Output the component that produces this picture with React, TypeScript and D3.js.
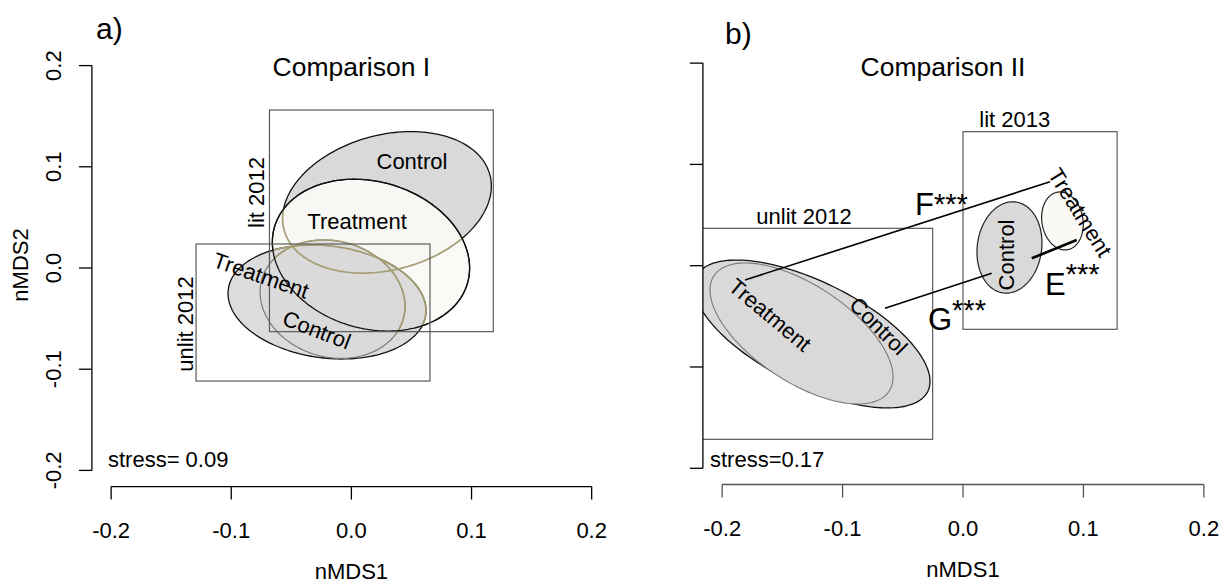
import React from "react";
import * as d3 from "d3";

// ---- shared axis ticks ----
const AXIS_TICKS = [-0.2, -0.1, 0.0, 0.1, 0.2];
const AXIS_TICK_LABELS = ["-0.2", "-0.1", "0.0", "0.1", "0.2"];

// ---- Comparison I (lit 2012 vs unlit 2012) ----
const c1Groups = ["lit 2012 Control", "lit 2012 Treatment", "unlit 2012 Treatment", "unlit 2012 Control"];
// ellipse centres: [nMDS1, nMDS2]
const c1Centers = [
  [0.0296, 0.0649],
  [0.0163, 0.0127],
  [-0.0203, -0.0336],
  [-0.0157, -0.0308],
];
// ellipse spread: [sd nMDS1, sd nMDS2, correlation]
const c1Spread = [
  [0.0869, 0.0699, 0.23],
  [0.0821, 0.075, -0.17],
  [0.0824, 0.0563, -0.15],
  [0.0603, 0.0585, -0.12],
];
// site boxes: [xmin, xmax, ymin, ymax]
const c1BoxNames = ["lit 2012", "unlit 2012"];
const c1Boxes = [
  [-0.0682, 0.1181, -0.0629, 0.1561],
  [-0.1293, 0.0654, -0.1117, 0.0237],
];
const c1Stress = "stress= 0.09";

// ---- Comparison II (unlit 2012 vs lit 2013) ----
const c2Groups = ["unlit 2012 Control", "unlit 2012 Treatment", "lit 2013 Control", "lit 2013 Treatment"];
const c2Centers = [
  [-0.1254, -0.0674],
  [-0.1341, -0.0669],
  [0.0386, 0.018],
  [0.0826, 0.0442],
];
const c2Spread = [
  [0.098, 0.073, -0.64],
  [0.076, 0.0696, -0.6165],
  [0.027, 0.0451, 0.1],
  [0.0173, 0.0286, -0.12],
];
const c2BoxNames = ["unlit 2012", "lit 2013"];
const c2Boxes = [
  [-0.2165, -0.0252, -0.1714, 0.0369],
  [0.0, 0.128, -0.0628, 0.1323],
];
// pairwise contrasts: [from x, from y, to x, to y]
const c2ContrastNames = ["F", "G", "E"];
const c2ContrastStars = ["***", "***", "***"];
const c2Contrasts = [
  [-0.181, -0.0141, 0.0723, 0.0829],
  [-0.0648, -0.042, 0.0238, -0.0075],
  [0.0571, 0.0073, 0.0944, 0.0254],
];
const c2Stress = "stress=0.17";

const FONT = "'Liberation Sans', Arial, Helvetica, sans-serif";
const GREY = "#d9d9d9";
const PALE = "#faf9f5";
const OLIVE = "#a59d74";

function ellipsePath(
  c: number[],
  s: number[],
  xs: d3.ScaleLinear<number, number>,
  ys: d3.ScaleLinear<number, number>
) {
  const [sx, sy, r] = s;
  const q = Math.sqrt(1 - r * r);
  const pts: [number, number][] = d3.range(0, 360, 2).map((deg) => {
    const t = (deg * Math.PI) / 180;
    return [xs(c[0] + sx * Math.cos(t)), ys(c[1] + sy * (r * Math.cos(t) + q * Math.sin(t)))];
  });
  return d3.line().curve(d3.curveLinearClosed)(pts) as string;
}

type EllStyle = { fill: string; fillOpacity: number; stroke: string; width: number };
type Label = { text: string; x: number; y: number; rot: number; size?: number };
type Tint = { inside: number; targets: number[]; color: string };

type PanelProps = {
  id: string;
  left: number;
  right: number;
  top: number;
  bottom: number;
  showYLabels: boolean;
  xAxisColor: string;
  centers: number[][];
  spread: number[][];
  styles: EllStyle[];
  tint?: Tint;
  boxes: number[][];
  labels: Label[];
  stress: string;
  stressPos: [number, number];
  letter: string;
  letterPos: [number, number];
  title: string;
  titleX: number;
  children?: (xs: d3.ScaleLinear<number, number>, ys: d3.ScaleLinear<number, number>) => React.ReactNode;
};

function Panel(p: PanelProps) {
  const xs = d3.scaleLinear().domain([-0.216, 0.216]).range([p.left, p.right]);
  const ys = d3.scaleLinear().domain([-0.216, 0.216]).range([p.bottom, p.top]);
  const tickLen = 13;
  const paths = p.centers.map((c, i) => ellipsePath(c, p.spread[i], xs, ys));
  return (
    <g fontFamily={FONT} fill="#000">
      <defs>
        <clipPath id={p.id}>
          <rect x={p.left} y={p.top} width={p.right - p.left} height={p.bottom - p.top} />
        </clipPath>
        {p.tint && (
          <clipPath id={p.id + "tint"}>
            <path d={paths[p.tint.inside]} />
          </clipPath>
        )}
      </defs>
      <g clipPath={`url(#${p.id})`}>
        {paths.map((d, i) => (
          <path
            key={i}
            d={d}
            fill={p.styles[i].fill}
            fillOpacity={p.styles[i].fillOpacity}
            stroke={p.styles[i].stroke}
            strokeWidth={p.styles[i].width}
          />
        ))}
        {p.tint && (
          <g clipPath={`url(#${p.id}tint)`}>
            {p.tint.targets.map((i) => (
              <path key={"t" + i} d={paths[i]} fill="none" stroke={p.tint!.color} strokeWidth={p.styles[i].width + 0.4} />
            ))}
          </g>
        )}
        {p.tint && (
          <path
            d={paths[p.tint.inside]}
            fill="none"
            stroke={p.styles[p.tint.inside].stroke}
            strokeWidth={p.styles[p.tint.inside].width}
          />
        )}
        {p.boxes.map((b, i) => (
          <rect
            key={"b" + i}
            x={xs(b[0])}
            y={ys(b[3])}
            width={xs(b[1]) - xs(b[0])}
            height={ys(b[2]) - ys(b[3])}
            fill="none"
            stroke="#5a5a5a"
            strokeWidth={1.2}
          />
        ))}
      </g>
      {p.children && p.children(xs, ys)}
      {p.labels.map((l, i) => (
        <text
          key={"l" + i}
          transform={`translate(${xs(l.x)},${ys(l.y)}) rotate(${l.rot})`}
          textAnchor="middle"
          dominantBaseline="central"
          fontSize={l.size || 22}
        >
          {l.text}
        </text>
      ))}
      {/* y axis */}
      <line x1={p.left} x2={p.left} y1={ys(0.2)} y2={ys(-0.2)} stroke="#000" strokeWidth={1.3} />
      {AXIS_TICKS.map((t, i) => (
        <g key={"yt" + i}>
          <line x1={p.left - tickLen} x2={p.left} y1={ys(t)} y2={ys(t)} stroke="#000" strokeWidth={1.3} />
          {p.showYLabels && (
            <text
              transform={`translate(${p.left - 31},${ys(t)}) rotate(-90)`}
              textAnchor="middle"
              fontSize={22}
            >
              {AXIS_TICK_LABELS[i]}
            </text>
          )}
        </g>
      ))}
      {/* x axis */}
      <line x1={xs(-0.2)} x2={xs(0.2)} y1={p.bottom} y2={p.bottom} stroke={p.xAxisColor} strokeWidth={1.3} />
      {AXIS_TICKS.map((t, i) => (
        <g key={"xt" + i}>
          <line x1={xs(t)} x2={xs(t)} y1={p.bottom} y2={p.bottom + tickLen} stroke={p.xAxisColor} strokeWidth={1.3} />
          <text x={xs(t)} y={p.bottom + 51} textAnchor="middle" fontSize={22}>
            {AXIS_TICK_LABELS[i]}
          </text>
        </g>
      ))}
      <text x={xs(0)} y={p.bottom + 92} textAnchor="middle" fontSize={22}>
        nMDS1
      </text>
      {p.showYLabels && (
        <text transform={`translate(${27.5},${265}) rotate(-90)`} textAnchor="middle" fontSize={22}>
          nMDS2
        </text>
      )}
      <text x={xs(p.stressPos[0])} y={ys(p.stressPos[1])} fontSize={22}>
        {p.stress}
      </text>
      <text x={p.letterPos[0]} y={p.letterPos[1]} fontSize={30}>
        {p.letter}
      </text>
      <text x={p.titleX} y={76} textAnchor="middle" fontSize={26.5}>
        {p.title}
      </text>
    </g>
  );
}

export default function App() {
  const stylesI: EllStyle[] = [
    { fill: GREY, fillOpacity: 1, stroke: "#111", width: 1.3 },
    { fill: PALE, fillOpacity: 0.9, stroke: "#111", width: 1.3 },
    { fill: GREY, fillOpacity: 0.92, stroke: "#111", width: 1.3 },
    { fill: GREY, fillOpacity: 0.85, stroke: "#7a7a72", width: 1.2 },
  ];
  const stylesII: EllStyle[] = [
    { fill: GREY, fillOpacity: 1, stroke: "#111", width: 1.3 },
    { fill: GREY, fillOpacity: 1, stroke: "#7a7a7a", width: 1.1 },
    { fill: GREY, fillOpacity: 1, stroke: "#222", width: 1.2 },
    { fill: PALE, fillOpacity: 1, stroke: "#222", width: 1.2 },
  ];
  const labelsI: Label[] = [
    { text: "Control", x: 0.0504, y: 0.105, rot: 0 },
    { text: "Treatment", x: 0.0047, y: 0.0458, rot: 0 },
    { text: "Treatment", x: -0.0752, y: -0.0075, rot: 19 },
    { text: "Control", x: -0.0289, y: -0.0613, rot: 21 },
    { text: c1BoxNames[0], x: -0.0794, y: 0.0746, rot: -90 },
    { text: c1BoxNames[1], x: -0.1385, y: -0.0553, rot: -90 },
  ];
  const labelsII: Label[] = [
    { text: "Control", x: -0.0703, y: -0.0595, rot: 45 },
    { text: "Treatment", x: -0.1603, y: -0.0487, rot: 40 },
    { text: "Control", x: 0.0365, y: 0.0106, rot: -90 },
    { text: "Treatment", x: 0.0972, y: 0.0525, rot: 58 },
    { text: c2BoxNames[0], x: -0.132, y: 0.049, rot: 0 },
    { text: c2BoxNames[1], x: 0.043, y: 0.1443, rot: 0 },
  ];
  // letter anchors for the contrast annotations: [x, y, star raise]
  const contrastText: [number, number, number][] = [
    [-0.0399, 0.05, -1],
    [-0.0291, -0.0634, -10],
    [0.0681, -0.0289, -11],
  ];

  return (
    <svg
      width={1228}
      height={584}
      viewBox="0 0 1228 584"
      style={{ position: "absolute", left: 0, top: 0, background: "#fff" }}
    >
      <rect width={1228} height={584} fill="#fff" />
      <Panel
        id="clipI"
        left={91.9}
        right={610.9}
        top={49.4}
        bottom={486.6}
        showYLabels={true}
        xAxisColor="#000"
        centers={c1Centers}
        spread={c1Spread}
        styles={stylesI}
        tint={{ inside: 1, targets: [0, 2, 3], color: OLIVE }}
        boxes={c1Boxes}
        labels={labelsI}
        stress={c1Stress}
        stressPos={[-0.2026, -0.1966]}
        letter="a)"
        letterPos={[96, 39]}
        title="Comparison I"
        titleX={351.4}
      />
      <Panel
        id="clipII"
        left={702.9}
        right={1223.1}
        top={46.9}
        bottom={484.5}
        showYLabels={false}
        xAxisColor="#555"
        centers={c2Centers}
        spread={c2Spread}
        styles={stylesII}
        boxes={c2Boxes}
        labels={labelsII}
        stress={c2Stress}
        stressPos={[-0.2101, -0.1987]}
        letter="b)"
        letterPos={[725, 44]}
        title="Comparison II"
        titleX={943}
      >
        {(xs, ys) => (
          <g>
            {c2Contrasts.map((s, i) => (
              <line
                key={"c" + i}
                x1={xs(s[0])}
                y1={ys(s[1])}
                x2={xs(s[2])}
                y2={ys(s[3])}
                stroke="#000"
                strokeWidth={c2ContrastNames[i] === "E" ? 2.6 : 1.6}
              />
            ))}
            {c2ContrastNames.map((n, i) => (
              <text key={"n" + i} x={xs(contrastText[i][0])} y={ys(contrastText[i][1])} fontSize={31}>
                {n}
                <tspan fontSize={29} dy={contrastText[i][2]}>
                  {c2ContrastStars[i]}
                </tspan>
              </text>
            ))}
          </g>
        )}
      </Panel>
    </svg>
  );
}
